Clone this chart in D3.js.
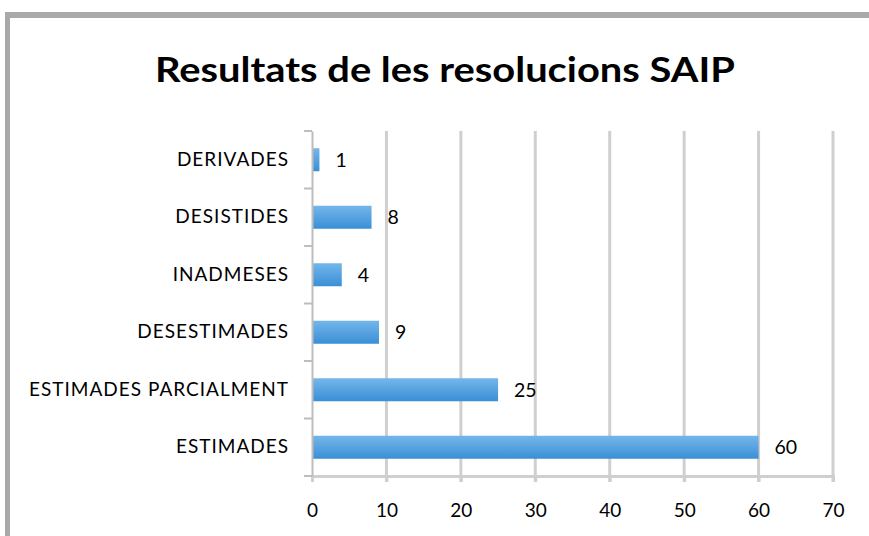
<!DOCTYPE html>
<html><head><meta charset="utf-8">
<script src="https://cdn.jsdelivr.net/npm/d3@7"></script>
<style>body{margin:0;background:#fff}svg{display:block}</style>
</head><body>
<svg id="c" width="869" height="536"></svg>
<script>
const categories = ["DERIVADES","DESISTIDES","INADMESES","DESESTIMADES","ESTIMADES PARCIALMENT","ESTIMADES"];
const values = [1,8,4,9,25,60];
const xTicks = [0,10,20,30,40,50,60,70];
const title = "Resultats de les resolucions SAIP";

const svg = d3.select("#c");
const W = 869, H = 536;
const m = {left:312, right:36, top:131, bottom:60};
const iw = W - m.left - m.right, ih = H - m.top - m.bottom;

// frame
svg.append("rect").attr("x",5).attr("y",12).attr("width",W).attr("height",6).attr("fill","#a9a9a9");
svg.append("rect").attr("x",5).attr("y",12).attr("width",5).attr("height",H).attr("fill","#a9a9a9");

const defs = svg.append("defs");
const g1 = defs.append("linearGradient").attr("id","bg").attr("x1",0).attr("x2",0).attr("y1",0).attr("y2",1);
g1.append("stop").attr("offset","0%").attr("stop-color","#74b6ea");
g1.append("stop").attr("offset","100%").attr("stop-color","#3a8fd6");

svg.append("text").attr("x",445).attr("y",82).attr("text-anchor","middle")
  .attr("font-family","Lato").attr("font-weight","bold").attr("font-size",35).attr("fill","#000")
  .attr("textLength",580).attr("lengthAdjust","spacingAndGlyphs")
  .text(title);

const x = d3.scaleLinear().domain([0,70]).range([0,iw]);
const y = d3.scaleBand().domain(categories).range([0,ih]).paddingInner(0.6).paddingOuter(0.3);

const g = svg.append("g").attr("transform",`translate(${m.left},${m.top})`);

// gridlines
g.selectAll(".grid").data(xTicks.slice(1)).join("line")
  .attr("x1",d=>x(d)).attr("x2",d=>x(d)).attr("y1",0).attr("y2",ih+6)
  .attr("stroke","#cfcfcf").attr("stroke-width",3);

// bottom axis
const xa = g.append("g").attr("transform",`translate(0,${ih})`)
  .call(d3.axisBottom(x).tickValues(xTicks).tickSize(6).tickPadding(22));
xa.select(".domain").attr("stroke","#cfcfcf").attr("stroke-width",3);
xa.selectAll(".tick line").attr("stroke","#cfcfcf").attr("stroke-width",3);
xa.selectAll("text").attr("font-family","Lato").attr("font-size",19).attr("fill","#000");

// bars
g.selectAll(".bar").data(values).join("rect")
  .attr("x",0).attr("y",(d,i)=>y(categories[i]))
  .attr("width",d=>x(d)).attr("height",y.bandwidth())
  .attr("fill","url(#bg)");

// left axis
const ya = g.append("g").call(d3.axisLeft(y).tickSize(0).tickPadding(23));
ya.select(".domain").attr("stroke","#bdbdbd").attr("stroke-width",2);
ya.selectAll("text").attr("font-family","Lato").attr("font-size",19).attr("letter-spacing",1).attr("fill","#000");
// boundary ticks
const bounds = d3.range(categories.length+1).map(i=>i*ih/categories.length);
g.selectAll(".bt").data(bounds).join("line")
  .attr("x1",-8).attr("x2",0).attr("y1",d=>d).attr("y2",d=>d)
  .attr("stroke","#bdbdbd").attr("stroke-width",2);

// value labels
g.selectAll(".vl").data(values).join("text")
  .attr("x",d=>x(d)+16).attr("y",(d,i)=>y(categories[i])+y.bandwidth()/2)
  .attr("dy","0.35em").attr("font-family","Lato").attr("font-size",19.5).attr("fill","#000")
  .text(d=>d);
</script>
</body></html>
